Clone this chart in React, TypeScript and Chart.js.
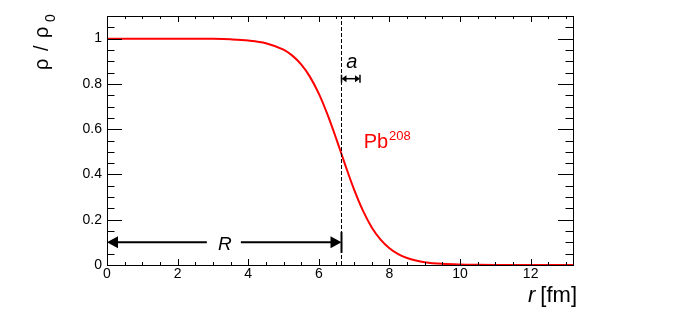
import React, { useEffect, useRef } from "react";
import { Chart, registerables } from "chart.js";

Chart.register(...registerables);

// ---- data ----
const rValues = [0, 1, 2, 3, 3.5, 4, 4.5, 5, 5.25, 5.5, 5.75, 6, 6.25, 6.5, 6.75, 7, 7.25, 7.5, 7.75, 8, 8.25, 8.5, 8.75, 9, 9.5, 10, 10.5, 11, 12, 13.2];
const densityValues = [1, 1, 1, 0.999, 0.997, 0.992, 0.98, 0.951, 0.925, 0.886, 0.831, 0.757, 0.663, 0.555, 0.441, 0.333, 0.24, 0.166, 0.112, 0.074, 0.048, 0.031, 0.02, 0.0126, 0.0051, 0.002, 0.0008, 0.0003, 0, 0];
const xTickValues = [0, 2, 4, 6, 8, 10, 12];
const xTickLabels = ["0", "2", "4", "6", "8", "10", "12"];
const yTickValues = [0, 0.2, 0.4, 0.6, 0.8, 1];
const yTickLabels = ["0", "0.2", "0.4", "0.6", "0.8", "1"];
const xRange = [0, 13.2];
const yRange = [0, 1.1];

// annotation values (in data units)
const nuclearRadius = 6.62; // R
const surfaceDiffuseness = 0.546; // a
const rArrowLevel = 0.1;
const aArrowLevel = 0.823;
const aLabelLevel = 0.869;
const nucleusName = "Pb";
const nucleusMass = "208";
const nucleusLabelPos = [7.27, 0.515];

const FONT = "'Liberation Sans', Arial, Helvetica, sans-serif";

function line(ctx: CanvasRenderingContext2D, x1: number, y1: number, x2: number, y2: number) {
  ctx.beginPath();
  ctx.moveTo(x1, y1);
  ctx.lineTo(x2, y2);
  ctx.stroke();
}

function arrowHead(ctx: CanvasRenderingContext2D, tx: number, y: number, dir: number, len: number, half: number) {
  ctx.beginPath();
  ctx.moveTo(tx, y);
  ctx.lineTo(tx - dir * len, y - half);
  ctx.lineTo(tx - dir * len, y + half);
  ctx.closePath();
  ctx.fill();
}

const overlayPlugin = {
  id: "rootOverlay",
  afterDatasetsDraw(chart: any) {
    const { ctx, chartArea: ca, scales } = chart;
    const xs = scales.x;
    const ys = scales.y;
    const X = (v: number) => xs.getPixelForValue(v);
    const Y = (v: number) => ys.getPixelForValue(v);
    ctx.save();
    ctx.strokeStyle = "#000";
    ctx.fillStyle = "#000";
    ctx.lineWidth = 1;

    // frame
    ctx.strokeRect(Math.round(ca.left) + 0.5, Math.round(ca.top) + 0.5, Math.round(ca.right - ca.left), Math.round(ca.bottom - ca.top));

    // inward ticks, x axis (bottom + top)
    for (let i = 0; ; i++) {
      const v = i * 0.5;
      if (v > xs.max + 1e-9) break;
      const major = i % 4 === 0;
      const px = Math.round(X(v)) + 0.5;
      const len = major ? 6 : 3;
      line(ctx, px, ca.bottom, px, ca.bottom - len);
      line(ctx, px, ca.top, px, ca.top + len);
    }
    // inward ticks, y axis (left + right)
    for (let i = 0; ; i++) {
      const v = i * 0.05;
      if (v > ys.max - 1e-9) break;
      const major = i % 4 === 0;
      const py = Math.round(Y(v)) + 0.5;
      const len = major ? 15 : 7.5;
      line(ctx, ca.left, py, ca.left + len, py);
      line(ctx, ca.right, py, ca.right - len, py);
    }

    // dashed line at R
    const xR = Math.round(X(nuclearRadius)) + 0.5;
    ctx.setLineDash([4, 2]);
    line(ctx, xR, Y(0), xR, Y(yRange[1]));
    ctx.setLineDash([]);

    // R arrow
    const yA = Y(rArrowLevel);
    const x0 = X(0);
    const xMid = X(nuclearRadius / 2);
    ctx.lineWidth = 2;
    line(ctx, x0 + 8, yA, xMid - 17, yA);
    line(ctx, xMid + 17, yA, xR - 8, yA);
    arrowHead(ctx, x0, yA, -1, 11, 6);
    arrowHead(ctx, xR, yA, 1, 11, 6);
    line(ctx, xR, yA - 10.5, xR, yA + 10.5);
    ctx.font = `italic 19px ${FONT}`;
    ctx.textAlign = "center";
    ctx.textBaseline = "alphabetic";
    ctx.fillText("R", xMid + 1, yA + 7.5);

    // a arrow
    const yB = Y(aArrowLevel);
    const xa = X(nuclearRadius + surfaceDiffuseness);
    ctx.lineWidth = 1.5;
    line(ctx, xR + 4, yB, xa - 4, yB);
    arrowHead(ctx, xR, yB, -1, 5, 3.5);
    arrowHead(ctx, xa, yB, 1, 5, 3.5);
    line(ctx, xR, yB - 4, xR, yB + 4);
    line(ctx, xa, yB - 4, xa, yB + 4);
    ctx.font = `italic 20px ${FONT}`;
    ctx.textAlign = "center";
    ctx.fillText("a", (xR + xa) / 2 + 1, Y(aLabelLevel));

    // Pb208 label
    ctx.fillStyle = "#ff0000";
    ctx.textAlign = "left";
    ctx.font = `20px ${FONT}`;
    const px = X(nucleusLabelPos[0]);
    const py = Y(nucleusLabelPos[1]);
    ctx.fillText(nucleusName, px, py);
    const pw = ctx.measureText(nucleusName).width;
    ctx.font = `13px ${FONT}`;
    ctx.fillText(nucleusMass, px + pw + 1, py - 8);

    // x axis title: r [fm]
    ctx.fillStyle = "#000";
    ctx.font = `22px ${FONT}`;
    ctx.textAlign = "right";
    const xTitleRight = ca.right + 4;
    const xTitleBase = 302;
    ctx.fillText("[fm]", xTitleRight, xTitleBase);
    const fw = ctx.measureText("[fm]").width;
    ctx.font = `italic 22px ${FONT}`;
    ctx.fillText("r", xTitleRight - fw - 5, xTitleBase);

    // y axis title: rho / rho_0 (rotated)
    ctx.save();
    ctx.translate(48, 70);
    ctx.rotate(-Math.PI / 2);
    ctx.textAlign = "left";
    ctx.font = `20px ${FONT}`;
    ctx.fillText("\u03C1", 0, 0);
    ctx.fillText("/", 19, 0);
    ctx.fillText("\u03C1", 32, 0);
    ctx.font = `14px ${FONT}`;
    ctx.fillText("0", 48, 7);
    ctx.restore();

    ctx.restore();
  },
};

export default function App() {
  const ref = useRef<HTMLCanvasElement | null>(null);
  useEffect(() => {
    if (!ref.current) return;
    const chart = new Chart(ref.current, {
      type: "line",
      data: {
        datasets: [
          {
            data: rValues.map((r, i) => ({ x: r, y: densityValues[i] })),
            borderColor: "#ff0000",
            borderWidth: 2,
            pointRadius: 0,
            cubicInterpolationMode: "monotone",
            fill: false,
          },
        ],
      },
      options: {
        animation: false,
        responsive: false,
        devicePixelRatio: 1,
        layout: { padding: { left: 0, right: 102, top: 16, bottom: 0 } },
        plugins: { legend: { display: false }, tooltip: { enabled: false } },
        scales: {
          x: {
            type: "linear",
            min: xRange[0],
            max: xRange[1],
            grid: { display: false, drawTicks: false },
            border: { display: false },
            afterBuildTicks: (s: any) => {
              s.ticks = xTickValues.map((v) => ({ value: v }));
            },
            afterFit: (s: any) => {
              s.height = 51;
            },
            ticks: {
              autoSkip: false,
              maxRotation: 0,
              padding: 1,
              color: "#000",
              font: { family: FONT, size: 14 },
              callback: (v: any) => {
                const i = xTickValues.indexOf(Number(v));
                return i >= 0 ? xTickLabels[i] : "";
              },
            },
          },
          y: {
            type: "linear",
            min: yRange[0],
            max: yRange[1],
            grid: { display: false, drawTicks: false },
            border: { display: false },
            afterBuildTicks: (s: any) => {
              s.ticks = yTickValues.map((v) => ({ value: v }));
            },
            afterFit: (s: any) => {
              s.width = 107;
            },
            ticks: {
              autoSkip: false,
              padding: 5,
              color: "#000",
              font: { family: FONT, size: 14 },
              callback: (v: any) => {
                const i = yTickValues.findIndex((t) => Math.abs(t - Number(v)) < 1e-9);
                return i >= 0 ? yTickLabels[i] : "";
              },
            },
          },
        },
      },
      plugins: [overlayPlugin],
    } as any);
    return () => chart.destroy();
  }, []);
  return (
    <div style={{ position: "fixed", left: 0, top: 0, width: 675, height: 316, background: "#fff" }}>
      <canvas ref={ref} width={675} height={316} style={{ width: 675, height: 316, display: "block" }} />
    </div>
  );
}
